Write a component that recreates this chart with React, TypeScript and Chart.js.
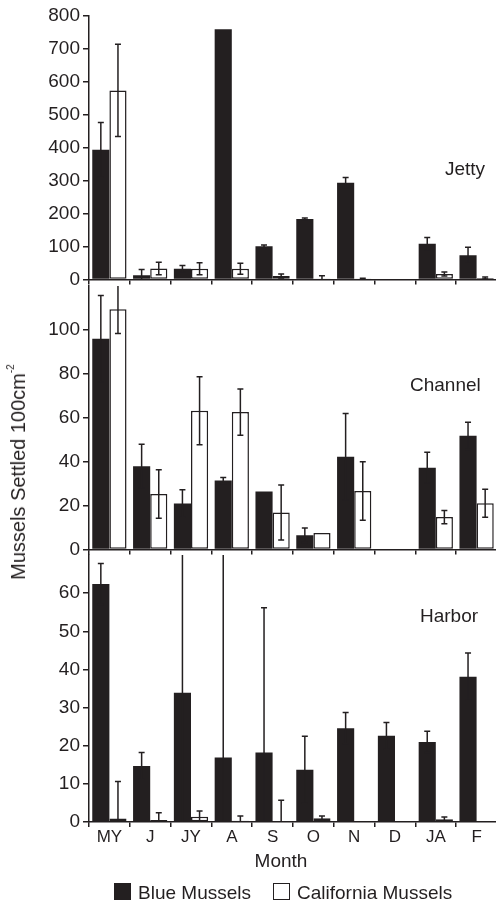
import React, { useEffect, useRef } from "react";
import { Chart, registerables } from "chart.js";

Chart.register(...registerables);

// ---------- data ----------
const months = ["MY", "J", "JY", "A", "S", "O", "N", "D", "JA", "F"];

const jettyBlue = [394, 13, 33, 760, 101, 184, 294, 0, 109, 74];
const jettyBlueErr = [83, 18, 10, 0, 4, 3, 16, 0, 19, 24];
const jettyCal = [574, 34, 33, 33, 11, 3, 3, 0, 17, 5];
const jettyCalErr = [140, 19, 18, 17, 6, 9, 1, 0, 6, 3];

const channelBlue = [96, 38, 21, 31.4, 26.4, 6.5, 42.3, 0, 37.3, 51.8];
const channelBlueErr = [19.7, 10, 6.3, 1.4, 0, 3.3, 19.7, 0, 7, 6.2];
const channelCal = [109.4, 25.3, 63.2, 62.6, 16.9, 7.6, 26.7, 0, 14.8, 21.1];
const channelCalErr = [11, 11, 15.5, 10.5, 12.5, 0, 13.3, 0, 3, 6.4];

const harborBlue = [62.4, 14.7, 33.9, 16.9, 18.2, 13.7, 24.6, 22.6, 21.0, 38.1];
const harborBlueErr = [5.4, 3.5, 40, 58, 38, 8.8, 4.1, 3.5, 2.8, 6.2];
const harborCal = [0.9, 0.5, 1.4, 0.3, 0, 1.0, 0, 0, 0.7, 0];
const harborCalErr = [9.7, 1.9, 1.5, 1.3, 5.7, 0.6, 0, 0, 0.6, 0];

const seriesNames = ["Blue Mussels", "California Mussels"];

// ---------- styles ----------
const INK = "#231f20";
const FONT = '"Liberation Sans", Arial, Helvetica, sans-serif';

const errorBarPlugin = {
  id: "errorBars",
  afterDatasetsDraw(chart: any, _args: any, opts: any) {
    const errs: number[][] = opts.errors || [];
    const ctx = chart.ctx;
    const area = chart.chartArea;
    const ys = chart.scales.y;
    ctx.save();
    ctx.beginPath();
    ctx.rect(area.left, area.top, area.right - area.left, area.bottom - area.top);
    ctx.clip();
    ctx.strokeStyle = INK;
    ctx.lineWidth = 1.5;
    chart.data.datasets.forEach((ds: any, i: number) => {
      const meta = chart.getDatasetMeta(i);
      const e = errs[i] || [];
      meta.data.forEach((bar: any, j: number) => {
        const err = e[j];
        if (!err) return;
        const v = ds.data[j];
        const yt = ys.getPixelForValue(v + err);
        const yb = ys.getPixelForValue(v - err);
        const x = bar.x;
        ctx.beginPath();
        ctx.moveTo(x, yt);
        ctx.lineTo(x, yb);
        ctx.moveTo(x - 3, yt);
        ctx.lineTo(x + 3, yt);
        ctx.moveTo(x - 3, yb);
        ctx.lineTo(x + 3, yb);
        ctx.stroke();
      });
    });
    ctx.restore();
  },
};

const panelLabelPlugin = {
  id: "panelLabel",
  afterDraw(chart: any, _args: any, opts: any) {
    if (!opts.text) return;
    const ctx = chart.ctx;
    ctx.save();
    ctx.font = `19px ${FONT}`;
    ctx.fillStyle = INK;
    ctx.textAlign = "left";
    ctx.textBaseline = "middle";
    ctx.fillText(opts.text, opts.x, opts.y);
    ctx.restore();
  },
};

type PanelProps = {
  name: string;
  blue: number[];
  blueErr: number[];
  cal: number[];
  calErr: number[];
  max: number;
  step: number;
  top: number;
  areaHeight: number;
  showX: boolean;
  labelX: number;
  labelY: number;
};

const CANVAS_W = 500;
const PAD_TOP = 16;

function Panel(p: PanelProps) {
  const ref = useRef<HTMLCanvasElement | null>(null);
  const xh = p.showX ? 30 : 12;
  const h = PAD_TOP + p.areaHeight + xh;

  useEffect(() => {
    if (!ref.current) return;
    const chart = new Chart(ref.current, {
      type: "bar",
      data: {
        labels: months,
        datasets: [
          {
            label: seriesNames[0],
            data: p.blue,
            backgroundColor: INK,
            borderColor: INK,
            borderWidth: 0,
            barPercentage: 1,
            categoryPercentage: 0.84,
          },
          {
            label: seriesNames[1],
            data: p.cal,
            backgroundColor: "#ffffff",
            borderColor: INK,
            borderWidth: 1.5,
            borderSkipped: false,
            barPercentage: 1,
            categoryPercentage: 0.84,
          },
        ],
      },
      options: {
        responsive: false,
        animation: false,
        devicePixelRatio: 1,
        layout: { padding: { top: PAD_TOP, right: 3, left: 0, bottom: 0 } },
        plugins: {
          legend: { display: false },
          tooltip: { enabled: false },
          title: { display: false },
          errorBars: { errors: [p.blueErr, p.calErr] },
          panelLabel: { text: p.name, x: p.labelX, y: p.labelY },
        } as any,
        scales: {
          x: {
            type: "category",
            offset: true,
            grid: {
              display: true,
              drawOnChartArea: false,
              drawTicks: true,
              tickLength: 5,
              offset: true,
              color: INK,
              lineWidth: 1.5,
            },
            border: { display: true, color: INK, width: 1.5 },
            ticks: {
              display: p.showX,
              color: INK,
              font: { family: FONT, size: 17 },
              padding: 0,
              autoSkip: false,
              maxRotation: 0,
            },
            afterFit: (s: any) => {
              s.height = xh;
            },
          },
          y: {
            min: 0,
            max: p.max,
            stacked: false,
            grid: {
              display: true,
              drawOnChartArea: false,
              drawTicks: true,
              tickLength: 6,
              color: (c: any) =>
                c.tick && c.tick.value === p.max && p.max !== 800 ? "rgba(0,0,0,0)" : INK,
              lineWidth: 1.5,
            },
            border: { display: true, color: INK, width: 1.5 },
            ticks: {
              stepSize: p.step,
              color: INK,
              font: { family: FONT, size: 19 },
              padding: 3,
              callback: (v: any) => (v === p.max && p.max !== 800 ? "" : String(v)),
            },
            afterFit: (s: any) => {
              s.width = 89;
            },
          },
        },
      },
      plugins: [errorBarPlugin, panelLabelPlugin],
    } as any);
    return () => chart.destroy();
  }, []);

  return (
    <canvas
      ref={ref}
      width={CANVAS_W}
      height={h}
      style={{
        position: "absolute",
        left: 0,
        top: p.top,
        width: CANVAS_W,
        height: h,
        display: "block",
      }}
    />
  );
}

export default function App() {
  return (
    <div
      style={{
        position: "absolute",
        left: 0,
        top: 0,
        width: 496,
        height: 903,
        overflow: "hidden",
        background: "#ffffff",
        fontFamily: FONT,
        color: INK,
      }}
    >
      <Panel
        name="Jetty"
        blue={jettyBlue}
        blueErr={jettyBlueErr}
        cal={jettyCal}
        calErr={jettyCalErr}
        max={800}
        step={100}
        top={0}
        areaHeight={266}
        showX={false}
        labelX={445}
        labelY={170}
      />
      <Panel
        name="Channel"
        blue={channelBlue}
        blueErr={channelBlueErr}
        cal={channelCal}
        calErr={channelCalErr}
        max={120}
        step={20}
        top={270}
        areaHeight={266}
        showX={false}
        labelX={410}
        labelY={116}
      />
      <Panel
        name="Harbor"
        blue={harborBlue}
        blueErr={harborBlueErr}
        cal={harborCal}
        calErr={harborCalErr}
        max={70}
        step={10}
        top={539}
        areaHeight={267}
        showX={true}
        labelX={420}
        labelY={78}
      />
      {/* y axis title */}
      <div
        style={{
          position: "absolute",
          left: 20,
          top: 472,
          transform: "translate(-50%, -50%) rotate(-90deg)",
          whiteSpace: "nowrap",
          fontSize: 20,
          lineHeight: "20px",
        }}
      >
        Mussels Settled 100cm
        <span style={{ fontSize: 10, position: "relative", top: -11 }}>-2</span>
      </div>
      {/* x axis title */}
      <div
        style={{
          position: "absolute",
          left: 281,
          top: 851,
          transform: "translateX(-50%)",
          whiteSpace: "nowrap",
          fontSize: 19,
          lineHeight: "19px",
        }}
      >
        Month
      </div>
      {/* legend */}
      <div
        style={{
          position: "absolute",
          left: 114,
          top: 883,
          width: 17,
          height: 17,
          background: INK,
        }}
      />
      <div
        style={{
          position: "absolute",
          left: 138,
          top: 883,
          fontSize: 19,
          lineHeight: "19px",
          whiteSpace: "nowrap",
        }}
      >
        {seriesNames[0]}
      </div>
      <div
        style={{
          position: "absolute",
          left: 273,
          top: 883,
          width: 17,
          height: 17,
          boxSizing: "border-box",
          border: `1.5px solid ${INK}`,
          background: "#ffffff",
        }}
      />
      <div
        style={{
          position: "absolute",
          left: 297,
          top: 883,
          fontSize: 19,
          lineHeight: "19px",
          whiteSpace: "nowrap",
        }}
      >
        {seriesNames[1]}
      </div>
    </div>
  );
}
